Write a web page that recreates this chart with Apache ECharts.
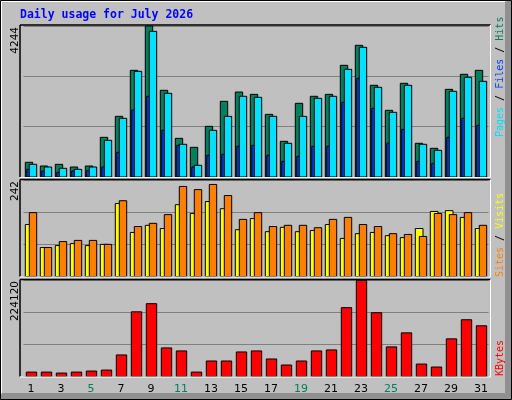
<!DOCTYPE html>
<html><head><meta charset="utf-8">
<script src="https://cdn.jsdelivr.net/npm/echarts@6/dist/echarts.min.js"></script>
<style>html,body{margin:0;padding:0;background:#c0c0c0}#c{width:512px;height:400px}</style>
</head><body><div id="c"></div>
<script>
const days = ['1','2','3','4','5','6','7','8','9','10','11','12','13','14','15','16','17','18','19','20','21','22','23','24','25','26','27','28','29','30','31'];
const weekend = [4,5,11,12,18,19,25,26];
const hits = [413,309,356,281,309,1115,1705,2998,4244,2436,1087,834,1424,2127,2388,2323,1761,1003,2071,2268,2323,3139,3701,2577,1874,2633,947,806,2464,2886,2998];
const files = [356,281,244,216,281,1031,1649,2970,4094,2352,919,329,1312,1705,2268,2240,1705,947,1705,2211,2268,3026,3645,2521,1818,2577,919,750,2408,2802,2689];
const pages = [216,169,132,169,188,281,694,1883,2268,1312,891,281,610,638,863,891,610,441,582,863,863,2099,2773,1930,947,1340,441,385,1115,1649,1452];
const sites = [131,73,78,83,78,81,184,111,129,121,181,159,189,171,118,146,113,124,113,116,131,96,108,111,103,98,121,164,166,149,121];
const visits = [161,73,88,91,91,81,191,126,134,156,227,219,232,204,144,161,126,129,129,123,144,149,131,126,108,106,101,159,156,161,129];
const kbytes = [10300,10300,8000,10300,12700,15000,50300,151000,170000,66700,59700,10300,36200,36200,57300,59700,40900,26800,36200,59700,62000,160700,224120,148900,69100,101900,29100,22100,87900,132500,118400];
const maxHits = 4244, maxVisits = 242, maxKB = 224120;

const chart = echarts.init(document.getElementById('c'), null, {renderer:'canvas'});
const grids = [
  {left:23.5, width:465, top:26, height:151},
  {left:23.5, width:465, top:180.5, height:96},
  {left:23.5, width:465, top:280.5, height:96}
];
function xAx(i, show){
  return {type:'category', gridIndex:i, data:days, boundaryGap:true,
    axisLine:{show:false}, axisTick:{show:false},
    axisLabel:{show:show, fontFamily:'DejaVu Sans', fontSize:11, margin:7,
      color:(v)=>weekend.includes(+v)?'#00805c':'#000'}};
}
function yAx(i, max){
  return {type:'value', gridIndex:i, min:0, max:max, interval:max/3,
    axisLine:{show:false}, axisTick:{show:false}, axisLabel:{show:false},
    splitLine:{show:true, lineStyle:{color:'#808080', width:1}}};
}
function barSeries(gi, data, x0, x1, color, z){
  return {type:'custom', xAxisIndex:gi, yAxisIndex:gi, z:z, data:data.map((v,i)=>[i,v]),
    renderItem:(params, api)=>{
      const top = api.coord([api.value(0), api.value(1)]);
      const base = api.coord([api.value(0), 0]);
      return {type:'rect', shape:{x:top[0]+x0, y:top[1], width:x1-x0, height:base[1]-top[1]},
        style:{fill:color, stroke:'#000', lineWidth:1}};
    }};
}
function panel(g){
  return [
    {type:'line', shape:{x1:20, y1:g.top-1, x2:490.5, y2:g.top-1}, style:{stroke:'#000', lineWidth:1.5}, z:50},
    {type:'line', shape:{x1:20, y1:g.top-1, x2:20, y2:g.top+g.height}, style:{stroke:'#000', lineWidth:1.5}, z:50},
    {type:'line', shape:{x1:490.5, y1:g.top-1, x2:490.5, y2:g.top+g.height+0.5}, style:{stroke:'#fff', lineWidth:1}, z:50},
    {type:'line', shape:{x1:20, y1:g.top+g.height+0.5, x2:490.5, y2:g.top+g.height+0.5}, style:{stroke:'#fff', lineWidth:1}, z:50}
  ];
}
function vtext(x, yBottom, rich, text, fs){
  return {type:'text', x:x, y:yBottom, rotation:Math.PI/2, z:60,
    style:{text:text, rich:rich, fontFamily:'DejaVu Sans Mono', fontSize:fs, align:'left', verticalAlign:'middle'}};
}
const mono = {fontFamily:'DejaVu Sans Mono', fontSize:10};
chart.setOption({
  animation:false,
  backgroundColor:'#c0c0c0',
  grid:grids,
  xAxis:[xAx(0,false), xAx(1,false), xAx(2,true)],
  yAxis:[yAx(0,maxHits), yAx(1,maxVisits), yAx(2,maxKB)],
  series:[
    barSeries(0, hits, -5.7, 1.7, '#00805c', 2),
    barSeries(0, pages, -4.2, -1.2, '#0040ff', 3),
    barSeries(0, files, -1.7, 5.7, '#00e0ff', 4),
    barSeries(1, sites, -5.7, 2, '#ffff00', 2),
    barSeries(1, visits, -1.7, 5.7, '#ff8000', 3),
    barSeries(2, kbytes, -4.7, 5.7, '#ff0000', 2)
  ],
  graphic:[
    {type:'polygon', shape:{points:[[505,2],[511,0],[511,400],[505,393]]}, style:{fill:'#909090'}, z:1},
    {type:'polygon', shape:{points:[[2,393],[505,393],[511,400],[0,400]]}, style:{fill:'#909090'}, z:1},
    {type:'rect', shape:{x:0.5, y:0.5, width:511, height:399}, style:{fill:null, stroke:'#000', lineWidth:1}, z:2},
    {type:'polyline', shape:{points:[[1.5,393],[1.5,1.5],[505,1.5]]}, style:{stroke:'#fff', lineWidth:1, fill:null}, z:2},
    {type:'text', x:20, y:15, z:60, style:{text:'Daily usage for July 2026', fontFamily:'DejaVu Sans Mono', fontWeight:'bold', fontSize:11.5, fill:'#0000ff', verticalAlign:'middle'}},
    ...panel(grids[0]), ...panel(grids[1]), ...panel(grids[2]),
    {type:'text', x:15, y:27, rotation:Math.PI/2, z:60, style:{text:String(maxHits), fontFamily:'DejaVu Sans', fontSize:10.5, fill:'#000', align:'right', verticalAlign:'middle'}},
    {type:'text', x:15, y:181, rotation:Math.PI/2, z:60, style:{text:String(maxVisits), fontFamily:'DejaVu Sans', fontSize:10.5, fill:'#000', align:'right', verticalAlign:'middle'}},
    {type:'text', x:15, y:281, rotation:Math.PI/2, z:60, style:{text:String(maxKB), fontFamily:'DejaVu Sans', fontSize:10.5, fill:'#000', align:'right', verticalAlign:'middle'}},
    vtext(500, 137, {p:{fill:'#00e0ff',...mono}, s:{fill:'#000',...mono}, f:{fill:'#0040ff',...mono}, h:{fill:'#00805c',...mono}}, '{p|Pages}{s| / }{f|Files}{s| / }{h|Hits}', 10),
    vtext(500, 277, {a:{fill:'#ff8000',...mono}, s:{fill:'#000',...mono}, b:{fill:'#ffff00',...mono}}, '{a|Sites}{s| / }{b|Visits}', 10),
    vtext(500, 376, {k:{fill:'#ff0000',...mono}}, '{k|KBytes}', 10)
  ]
});
</script></body></html>
